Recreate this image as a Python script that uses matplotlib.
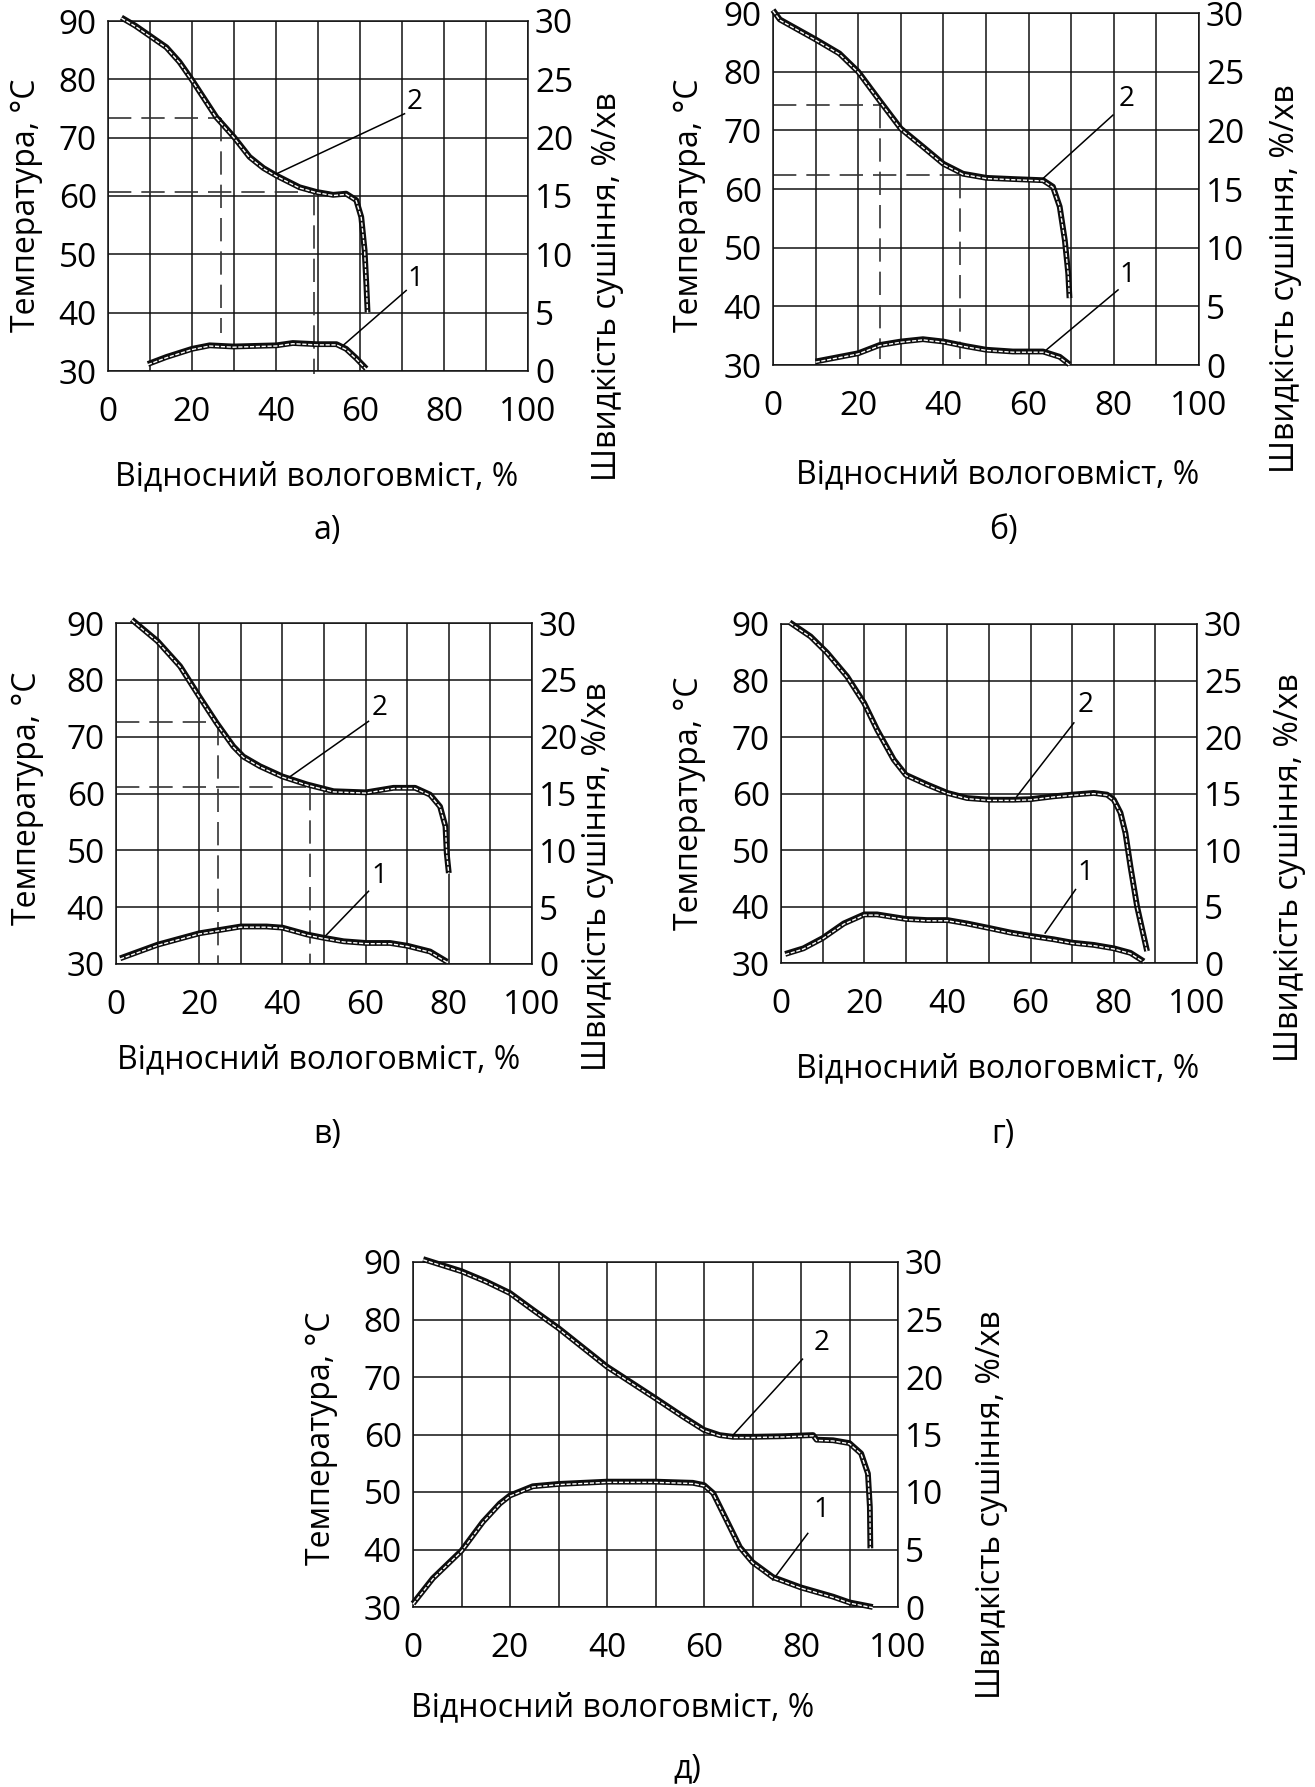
import numpy as np
import matplotlib.pyplot as plt
import matplotlib.transforms as mtransforms

plt.rcParams['font.family'] = ['Open Sans', 'DejaVu Sans']

# --- а) ---
a_x2 = [3.2, 6.5, 9.9, 13.9, 17.0, 20.0, 25.8, 30.0, 33.7, 37.0, 40.1, 45.6, 49.6, 53.6, 56.7, 59.1, 60.3, 61.1, 61.5, 61.8]
a_t2 = [90.6, 89.2, 87.5, 85.5, 83.0, 79.9, 73.5, 70.1, 66.7, 64.8, 63.5, 61.5, 60.7, 60.2, 60.4, 59.3, 56.4, 50.7, 45.0, 40.1]
a_x1 = [9.5, 13.9, 20.0, 24.2, 29.8, 40.1, 44.0, 49.6, 54.4, 56.7, 59.1, 61.5]
a_r1 = [0.6, 1.2, 1.9, 2.2, 2.1, 2.2, 2.4, 2.3, 2.3, 1.9, 1.1, 0.2]
a_guide_x = [27.0, 49.0]
a_guide_t = [73.3, 60.7]
a_guide_end = [36.5, 29.5]

# --- б) ---
b_x2 = [0.0, 1.6, 10.0, 15.6, 20.0, 25.0, 30.0, 35.2, 40.0, 44.6, 50.1, 56.3, 63.4, 65.7, 67.3, 68.5, 69.3, 69.6]
b_t2 = [90.5, 88.9, 85.5, 83.1, 80.0, 75.1, 70.3, 67.2, 64.3, 62.6, 61.9, 61.7, 61.5, 60.4, 57.0, 51.3, 45.6, 41.4]
b_x1 = [10.0, 20.0, 25.0, 30.0, 35.2, 40.0, 45.4, 50.1, 56.3, 63.4, 67.3, 69.6]
b_r1 = [0.3, 1.0, 1.7, 2.0, 2.2, 2.0, 1.6, 1.3, 1.15, 1.15, 0.7, 0.05]
b_guide_x = [25.0, 43.8]
b_guide_t = [74.3, 62.4]
b_guide_end = [31.0, 31.0]

# --- в) ---
c_x2 = [3.8, 10.0, 15.4, 20.0, 24.2, 28.2, 30.6, 34.6, 40.0, 45.9, 52.3, 60.1, 66.7, 71.9, 75.5, 77.9, 79.2, 79.5, 80.0]
c_t2 = [90.6, 86.8, 82.4, 77.1, 72.4, 68.3, 66.5, 64.8, 63.0, 61.6, 60.4, 60.2, 61.0, 61.0, 59.8, 57.7, 54.2, 49.5, 46.0]
c_x1 = [1.0, 10.0, 20.0, 30.0, 36.2, 40.0, 45.9, 50.0, 54.7, 60.1, 65.9, 70.1, 75.5, 79.6]
c_r1 = [0.5, 1.7, 2.7, 3.3, 3.3, 3.2, 2.6, 2.3, 2.0, 1.85, 1.85, 1.6, 1.1, 0.2]
c_guide_x = [24.4, 46.7]
c_guide_t = [72.5, 61.1]
c_guide_end = [30.0, 30.0]

# --- г) ---
d_x2 = [2.1, 7.1, 11.1, 15.9, 20.0, 23.1, 27.1, 30.0, 35.1, 40.0, 44.7, 50.0, 55.9, 60.0, 65.5, 70.0,
        75.2, 78.4, 80.0, 81.6, 82.8, 84.0, 85.6, 88.0]
d_t2 = [90.3, 87.8, 84.9, 80.7, 76.0, 71.3, 66.0, 63.3, 61.6, 60.1, 59.2, 58.9, 58.9, 59.0, 59.5, 59.8,
        60.1, 59.8, 58.9, 56.6, 53.0, 47.1, 40.0, 32.1]
d_x1 = [1.0, 5.4, 10.0, 15.1, 20.0, 23.1, 30.0, 35.1, 40.0, 44.7, 50.0, 55.1, 60.0, 65.5, 70.0, 75.2, 80.0, 84.0, 87.2]
d_r1 = [0.8, 1.3, 2.2, 3.5, 4.3, 4.3, 3.9, 3.8, 3.8, 3.5, 3.1, 2.7, 2.4, 2.1, 1.8, 1.6, 1.3, 0.9, 0.15]

# --- д) ---
e_x2 = [2.1, 10.0, 15.1, 20.0, 24.7, 30.0, 40.0, 50.0, 55.7, 60.0, 63.2, 66.0, 70.0, 76.3, 82.5, 83.2,
        86.6, 90.0, 92.4, 93.8, 94.2, 94.3]
e_t2 = [90.5, 88.4, 86.6, 84.6, 81.7, 78.5, 71.8, 66.3, 63.1, 60.8, 59.9, 59.6, 59.6, 59.7, 59.9, 59.1,
        59.0, 58.5, 56.7, 53.2, 47.4, 40.2]
e_x1 = [0.0, 4.1, 10.0, 14.4, 17.9, 20.0, 24.7, 30.0, 40.0, 50.0, 57.7, 60.0, 61.9, 64.6, 67.4, 70.0,
        74.2, 80.0, 86.6, 90.0, 94.8]
e_r1 = [0.3, 2.5, 4.9, 7.4, 9.0, 9.7, 10.5, 10.7, 10.9, 10.9, 10.8, 10.6, 9.9, 7.6, 5.2, 3.9,
        2.6, 1.7, 0.9, 0.4, 0.0]

W, H = 1315, 1787
fig = plt.figure(figsize=(W / 100, H / 100), dpi=100)


def px_box(l, t, r, b):
    return [l / W, 1 - b / H, (r - l) / W, (b - t) / H]


def px_text(x, y, s, **kw):
    fig.text(x / W, 1 - y / H, s, ha='center', va='center', **kw)


def double_line(ax, x, y):
    # thick dark stroke with a dashed white core, nudged down a little
    core = mtransforms.offset_copy(ax.transData, fig=fig, x=0, y=-0.5, units='points')
    ax.plot(x, y, color='#0d0d0d', lw=4.2, solid_capstyle='butt', solid_joinstyle='round',
            clip_on=False, zorder=5)
    ax.plot(x, y, color='white', lw=1.0, dashes=(3, 1.2), transform=core,
            clip_on=False, zorder=6)


def panel(box, x2, t2, x1, r1, lab2, lab1, guides=None):
    ax = fig.add_axes(px_box(*box))
    ax.set_xlim(0, 100)
    ax.set_ylim(30, 90)
    ax.set_xticks(np.arange(0, 101, 20))
    ax.set_xticks(np.arange(0, 101, 10), minor=True)
    ax.set_yticks(np.arange(30, 91, 10))
    ax.grid(True, which='both', color='#111111', lw=1.1)
    ax.tick_params(which='both', length=0, labelsize=24)
    ax.tick_params(axis='x', pad=18)
    ax.tick_params(axis='y', pad=8)
    for s in ax.spines.values():
        s.set_linewidth(1.1)
        s.set_color('#111111')

    ax2 = ax.twinx()
    ax2.set_ylim(0, 30)
    ax2.set_yticks(np.arange(0, 31, 5))
    ax2.tick_params(length=0, labelsize=24, pad=5)
    for s in ax2.spines.values():
        s.set_visible(False)

    if guides is not None:
        for gx, gt, gend in zip(*guides):
            ax.plot([0, gx], [gt, gt], color='#333333', lw=1.2, dashes=(14, 6), zorder=2)
            ax.plot([gx, gx], [gt, gend], color='#333333', lw=1.2, dashes=(14, 6),
                    clip_on=False, zorder=2)

    double_line(ax, x2, t2)
    double_line(ax2, x1, r1)

    # numbered leaders: (text x, text y, line start, line end) in temperature units
    for (tx, ty, sx, sy, ex, ey), num in zip([lab2, lab1], ['2', '1']):
        ax.plot([sx, ex], [sy, ey], color='black', lw=1.1, zorder=7)
        ax.text(tx, ty, num, fontsize=20, ha='center', va='center', zorder=7)
    return ax


panel((108, 21, 528, 371), a_x2, a_t2, a_x1, a_r1,
      (73.0, 76.1, 70.6, 74.1, 40.1, 63.8), (73.3, 45.7, 71.0, 43.8, 56.0, 34.4),
      (a_guide_x, a_guide_t, a_guide_end))
panel((773, 13, 1199, 365), b_x2, b_t2, b_x1, b_r1,
      (83.1, 75.4, 79.8, 72.6, 63.4, 61.8), (83.1, 45.3, 81.0, 42.8, 64.2, 32.6),
      (b_guide_x, b_guide_t, b_guide_end))
panel((116, 623, 532, 964), c_x2, c_t2, c_x1, c_r1,
      (63.4, 75.0, 60.7, 72.7, 41.9, 63.0), (63.4, 45.4, 60.7, 42.8, 50.3, 34.9),
      (c_guide_x, c_guide_t, c_guide_end))
panel((781, 624, 1197, 963), d_x2, d_t2, d_x1, d_r1,
      (73.2, 75.7, 70.4, 72.5, 56.7, 59.5), (73.2, 46.0, 70.8, 43.0, 63.5, 35.3))
panel((413, 1262, 898, 1607), e_x2, e_t2, e_x1, e_r1,
      (84.2, 75.9, 80.3, 73.1, 66.0, 59.9), (84.2, 46.8, 81.4, 42.8, 74.2, 34.7))

xlab = 'Відносний вологовміст, %'
tlab = 'Температура, °С'
rlab = 'Швидкість сушіння, %/хв'
fs = 23

for x, y in [(317, 477), (998, 475), (319, 1060), (998, 1069), (613, 1708)]:
    px_text(x, y, xlab, fontsize=fs)
for x, y in [(27, 205), (689, 205), (28, 798), (689, 803), (321, 1438)]:
    px_text(x, y, tlab, fontsize=fs, rotation=90)
for x, y in [(607, 287), (1285, 279), (598, 877), (1290, 868), (991, 1505)]:
    px_text(x, y, rlab, fontsize=fs, rotation=90)
for x, y, s in [(327, 531, 'а)'), (1003, 531, 'б)'), (327, 1134, 'в)'),
                (1003, 1134, 'г)'), (687, 1769, 'д)')]:
    px_text(x, y, s, fontsize=fs)

fig.savefig('out.png', dpi=100)
